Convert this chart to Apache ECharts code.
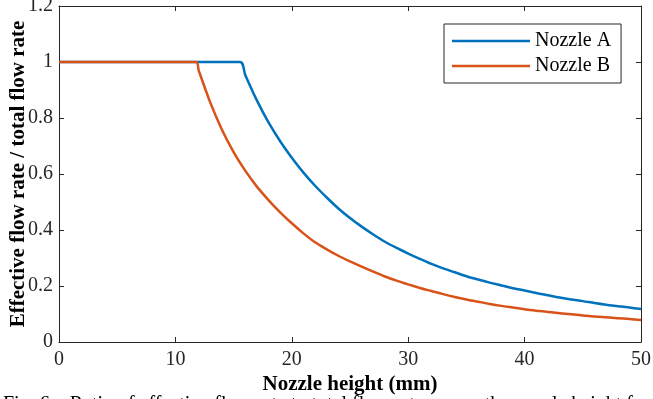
<!DOCTYPE html>
<html>
<head>
<meta charset="utf-8">
<script src="https://cdn.jsdelivr.net/npm/echarts@6/dist/echarts.min.js"></script>
<style>html,body{margin:0;padding:0;background:#fff;}#c{width:653px;height:399px;}</style>
</head>
<body>
<div id="c"></div>
<script>
// Nozzle A: x (mm) and ratio
const xA = [0, 15.55, 16, 17, 18, 19, 20, 21, 22, 23, 24, 25, 26, 27, 28, 29, 30, 31, 32, 33, 34, 35, 36, 37, 38, 39, 40, 41, 42, 43, 44, 45, 46, 47, 48, 49, 50];
const yA = [1, 1, 0.954, 0.863, 0.784, 0.717, 0.658, 0.605, 0.558, 0.516, 0.477, 0.443, 0.412, 0.384, 0.358, 0.336, 0.316, 0.297, 0.279, 0.263, 0.249, 0.235, 0.223, 0.212, 0.202, 0.192, 0.184, 0.175, 0.167, 0.159, 0.152, 0.146, 0.139, 0.133, 0.128, 0.123, 0.118];
// Nozzle B
const xB = [0, 11.77, 12, 13, 14, 15, 16, 17, 18, 19, 20, 21, 22, 23, 24, 25, 26, 27, 28, 29, 30, 31, 32, 33, 34, 35, 36, 37, 38, 39, 40, 41, 42, 43, 44, 45, 46, 47, 48, 49, 50];
const yB = [1, 1, 0.970, 0.855, 0.758, 0.678, 0.612, 0.555, 0.507, 0.463, 0.424, 0.388, 0.356, 0.331, 0.308, 0.288, 0.269, 0.251, 0.234, 0.219, 0.206, 0.193, 0.182, 0.171, 0.161, 0.152, 0.144, 0.136, 0.129, 0.123, 0.117, 0.112, 0.107, 0.103, 0.099, 0.095, 0.091, 0.088, 0.085, 0.082, 0.079];
const seriesNames = ['Nozzle A', 'Nozzle B'];
const xTitle = 'Nozzle height (mm)';
const yTitle = 'Effective flow rate / total flow rate';
const caption = 'Fig. 6.   Ratio of effective flow rate to total flow rate versus the nozzle height for the';

const font = "'Liberation Serif', 'DejaVu Serif', serif";
const axisCol = '#262626';
const pairs = (xs, ys) => xs.map((x, i) => [x, ys[i]]);

const chart = echarts.init(document.getElementById('c'), null, {renderer: 'canvas'});
const tickStyle = {show: true, inside: true, length: 5, lineStyle: {color: axisCol, width: 1}};
chart.setOption({
  animation: false,
  backgroundColor: '#fff',
  grid: {left: 59, right: 12, top: 6, bottom: 57, show: false, containLabel: false, outerBoundsMode: 'none'},
  legend: {
    show: true,
    orient: 'vertical', left: 444, top: 24,
    padding: [7, 10, 7, 8], itemGap: 5, itemWidth: 78, itemHeight: 2.5,
    icon: 'rect',
    borderColor: axisCol, borderWidth: 1, backgroundColor: '#fff',
    textStyle: {fontFamily: font, fontSize: 20, color: '#000', lineHeight: 20},
    data: seriesNames
  },
  xAxis: [{
    type: 'value', min: 0, max: 50, interval: 10, position: 'bottom',
    name: xTitle, nameLocation: 'middle', nameGap: 32, nameMoveOverlap: false,
    nameTextStyle: {fontFamily: font, fontSize: 21, fontWeight: 'bold', color: '#000'},
    axisLine: {show: true, onZero: false, lineStyle: {color: axisCol, width: 1}},
    axisTick: tickStyle,
    axisLabel: {fontFamily: font, fontSize: 20, color: axisCol, margin: 8},
    splitLine: {show: false}
  }, {
    type: 'value', min: 0, max: 50, interval: 10, position: 'top',
    axisLine: {show: true, onZero: false, lineStyle: {color: axisCol, width: 1}},
    axisTick: tickStyle, axisLabel: {show: false}, splitLine: {show: false}
  }],
  yAxis: [{
    type: 'value', min: 0, max: 1.2, interval: 0.2, position: 'left',
    name: yTitle, nameLocation: 'middle', nameGap: 30, nameMoveOverlap: false,
    nameTextStyle: {fontFamily: font, fontSize: 21, fontWeight: 'bold', color: '#000'},
    axisLine: {show: true, onZero: false, lineStyle: {color: axisCol, width: 1}},
    axisTick: tickStyle,
    axisLabel: {fontFamily: font, fontSize: 20, color: axisCol, margin: 6},
    splitLine: {show: false}
  }, {
    type: 'value', min: 0, max: 1.2, interval: 0.2, position: 'right',
    axisLine: {show: true, onZero: false, lineStyle: {color: axisCol, width: 1}},
    axisTick: tickStyle, axisLabel: {show: false}, splitLine: {show: false}
  }],
  series: [{
    name: seriesNames[0], type: 'line', data: pairs(xA, yA), smooth: 0.3,
    showSymbol: false, symbol: 'none', color: '#0072BD',
    lineStyle: {width: 2.5, color: '#0072BD'}
  }, {
    name: seriesNames[1], type: 'line', data: pairs(xB, yB), smooth: 0.3,
    showSymbol: false, symbol: 'none', color: '#D95319',
    lineStyle: {width: 2.5, color: '#D95319'}
  }],
  graphic: [{
    type: 'text', left: 3, top: 395,
    style: {text: caption, fontFamily: font, fontSize: 20, fill: '#000'}
  }]
});
</script>
</body>
</html>
